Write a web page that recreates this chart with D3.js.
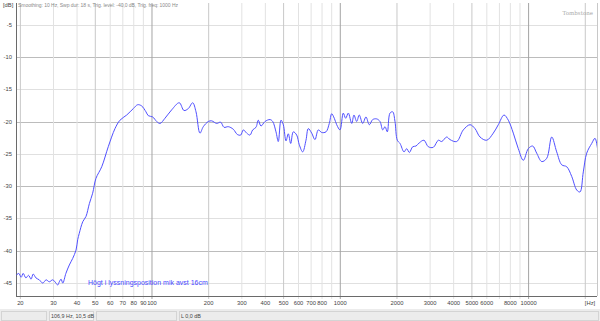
<!DOCTYPE html>
<html lang="en">
<head>
  <meta charset="UTF-8" />
  <title>Frequency response</title>
  <script src="https://d3js.org/d3.v7.min.js"></script>
  <style>
    body {
      margin: 0;
      background-color: #ffffff;
      font-family: 'Liberation Sans', Arial, sans-serif;
    }
    .tick-label {
      font-size: 5.8px;
      fill: #444;
    }
    .curve {
      fill: none;
      stroke: #5050ff;
      stroke-width: 1;
    }
  </style>
</head>
<body>
  <div id="chart"></div>

  <script>
    // measured curve (Hz, dB)
    const freqHz = [
      19.0, 19.6, 20.2, 20.7, 21.4, 22.1, 22.8, 23.4, 24.2, 25.2,
      26.3, 27.4, 28.5, 29.7, 30.9, 31.6, 32.2, 32.9, 33.6, 34.9,
      36.4, 37.9, 39.5, 40.3, 41.1, 42.9, 44.6, 46.5, 48.4, 50.4,
      54.1, 58.6, 63.6, 67.6, 73.4, 79.6, 84.0, 88.2, 92.9, 95.6,
      100.9, 105.9, 110.3, 117.2, 127.2, 139.6, 147.9, 155.9, 164.5, 171.3,
      179.8, 187.3, 199.1, 207.5, 220.6, 231.6, 241.3, 254.3, 270.3, 283.8,
      295.9, 305.4, 318.4, 331.5, 342.6, 356.7, 366.8, 379.2, 398.2, 423.4,
      437.5, 455.5, 468.5, 484.3, 498.1, 514.8, 529.5, 545.3, 562.9, 586.8,
      605.7, 631.4, 657.3, 676.2, 704.9, 733.8, 764.1, 796.5, 839.6, 874.2,
      900.2, 929.2, 957.0, 996.3, 1037, 1068, 1103, 1150, 1182, 1222,
      1261, 1315, 1369, 1426, 1486, 1561, 1625, 1680, 1728, 1777,
      1836, 1898, 1952, 2008, 2076, 2180, 2253, 2326, 2425, 2523,
      2627, 2782, 2932, 3117, 3315, 3455, 3674, 3825, 4151, 4501,
      4885, 5193, 5520, 5992, 6494, 6904, 7404, 7803, 8294, 8816,
      9374, 9963, 10515, 11040, 11740, 12480, 13270, 14100, 14990, 15940,
      16940, 18010, 18750, 19520, 20350, 21630, 22530, 23460
    ];
    const levelDb = [
      -43.8, -43.5, -44.1, -43.5, -44.2, -43.8, -44.4, -43.6, -44.2, -44.5,
      -45.0, -44.5, -44.8, -44.5, -45.0, -45.3, -44.8, -44.4, -45.0, -43.5,
      -42.2, -41.2, -39.9, -38.3, -37.3, -35.5, -34.7, -32.7, -31.1, -28.8,
      -27.0, -23.9, -21.1, -19.8, -19.0, -18.0, -17.4, -17.6, -18.5, -19.1,
      -19.3, -20.0, -20.3, -19.5, -18.2, -17.1, -18.3, -18.0, -17.1, -18.5,
      -21.8, -20.8, -20.0, -19.9, -20.3, -20.1, -20.9, -20.8, -21.2, -22.0,
      -22.1, -21.3, -21.8, -22.1, -21.3, -20.9, -19.8, -20.7, -20.0, -19.7,
      -20.0, -21.6, -23.1, -19.8, -20.5, -23.0, -21.9, -23.4, -21.6, -22.1,
      -23.6, -24.7, -22.9, -21.1, -21.8, -22.8, -21.3, -21.7, -21.6, -20.3,
      -18.8, -19.5, -20.5, -21.3, -18.7, -19.5, -18.7, -20.3, -19.0, -20.0,
      -19.0, -20.3, -19.3, -20.5, -19.7, -19.6, -20.0, -21.3, -20.8, -21.6,
      -18.7, -18.5, -20.0, -22.9, -23.4, -24.7, -24.2, -24.8, -23.9, -23.8,
      -23.3, -22.9, -23.9, -24.0, -22.9, -23.1, -22.4, -22.8, -23.1, -21.3,
      -20.5, -21.1, -22.4, -22.9, -21.8, -20.5, -19.0, -19.8, -21.8, -24.2,
      -26.0, -24.2, -23.8, -24.9, -26.2, -25.7, -22.4, -24.7, -26.7, -27.0,
      -28.5, -30.6, -30.9, -27.8, -24.9, -23.4, -22.6, -25.2
    ];

    const yTicks = [-5, -10, -15, -20, -25, -30, -35, -40, -45];
    const xGrid = [20, 30, 40, 50, 60, 70, 80, 90, 100, 200, 300, 400, 500, 600, 700, 800, 900,
                   1000, 2000, 3000, 4000, 5000, 6000, 7000, 8000, 9000, 10000, 20000];
    const xLabels = [20, 30, 40, 50, 60, 70, 80, 90, 100, 200, 300, 400, 500, 600, 700, 800,
                     1000, 2000, 3000, 4000, 5000, 6000, 8000, 10000];

    const infoText = "Smoothing: 10 Hz, Swp dur: 18 s, Trig. level: -40,0 dB, Trig. freq: 1000 Hz";
    const legendText = "Högt i lyssningsposition mik avst 16cm";
    const statusFields = ["", "106,9 Hz, 10,5 dB", "", "L 0,0 dB"];

    function drawChart() {
      const svgWidth = 600;
      const svgHeight = 321;
      const plot = { left: 16, right: 597, top: 3, bottom: 296 };

      const svg = d3.select("#chart")
        .append("svg")
        .attr("width", svgWidth)
        .attr("height", svgHeight);

      const x = d3.scaleLog()
        .domain([18.96, 23080])
        .range([plot.left, plot.right]);

      const y = d3.scaleLinear()
        .domain([-47, -1.2])
        .range([plot.bottom, 0]);

      svg.append("defs").append("clipPath")
        .attr("id", "plot-clip")
        .append("rect")
        .attr("x", plot.left)
        .attr("y", plot.top)
        .attr("width", plot.right - plot.left)
        .attr("height", plot.bottom - plot.top);

      // horizontal grid
      svg.append("g")
        .selectAll("line")
        .data(yTicks)
        .enter()
        .append("line")
        .attr("x1", plot.left)
        .attr("x2", plot.right)
        .attr("y1", d => Math.round(y(d)) + 0.5)
        .attr("y2", d => Math.round(y(d)) + 0.5)
        .attr("stroke", d => d % 10 === 0 ? "#bcbcbc" : "#e0e0e0");

      // vertical grid
      svg.append("g")
        .selectAll("line")
        .data(xGrid)
        .enter()
        .append("line")
        .attr("x1", d => x(d))
        .attr("x2", d => x(d))
        .attr("y1", plot.top)
        .attr("y2", plot.bottom + 3)
        .attr("stroke", d => {
          const m = d / Math.pow(10, Math.floor(Math.log10(d)));
          if (Math.abs(m - 1) < 1e-6) return "#a4a4a4";
          if (Math.abs(m - 2) < 1e-6 || Math.abs(m - 5) < 1e-6) return "#c8c8c8";
          return "#e2e2e2";
        });

      // frame
      svg.append("line")
        .attr("x1", plot.left + 0.5).attr("x2", plot.left + 0.5)
        .attr("y1", plot.top).attr("y2", plot.bottom)
        .attr("stroke", "#6a6a6a");
      svg.append("line")
        .attr("x1", plot.left).attr("x2", plot.right)
        .attr("y1", plot.bottom + 0.5).attr("y2", plot.bottom + 0.5)
        .attr("stroke", "#6a6a6a");
      svg.append("line")
        .attr("x1", plot.right + 0.5).attr("x2", plot.right + 0.5)
        .attr("y1", plot.top).attr("y2", plot.bottom)
        .attr("stroke", "#c8c8c8");

      // axis labels
      svg.append("g")
        .selectAll("text")
        .data(yTicks)
        .enter()
        .append("text")
        .attr("class", "tick-label")
        .attr("x", 12)
        .attr("y", d => y(d))
        .attr("dy", "0.35em")
        .attr("text-anchor", "end")
        .text(d => d);

      svg.append("g")
        .selectAll("text")
        .data(xLabels)
        .enter()
        .append("text")
        .attr("class", "tick-label")
        .attr("x", d => x(d))
        .attr("y", 305)
        .attr("text-anchor", "middle")
        .text(d => d);

      svg.append("text")
        .attr("class", "tick-label")
        .attr("x", 590)
        .attr("y", 305)
        .attr("text-anchor", "middle")
        .text("[Hz]");

      svg.append("text")
        .attr("class", "tick-label")
        .attr("x", 3)
        .attr("y", 7)
        .text("[dB]");

      svg.append("text")
        .attr("x", 18)
        .attr("y", 7)
        .attr("font-size", "5px")
        .attr("fill", "#8a8a8a")
        .attr("textLength", 160)
        .text(infoText);

      svg.append("text")
        .attr("x", 593)
        .attr("y", 15)
        .attr("text-anchor", "end")
        .attr("font-family", "'DejaVu Serif', serif")
        .attr("font-size", "5.5px")
        .attr("fill", "#a8a8a8")
        .text("Tombstone");

      // response curve
      const line = d3.line()
        .x(d => x(d[0]))
        .y(d => y(d[1]))
        .curve(d3.curveCatmullRom.alpha(0.5));

      svg.append("path")
        .datum(d3.zip(freqHz, levelDb))
        .attr("class", "curve")
        .attr("clip-path", "url(#plot-clip)")
        .attr("d", line);

      svg.append("text")
        .attr("x", 88)
        .attr("y", 285)
        .attr("font-size", "7px")
        .attr("fill", "#4848ff")
        .text(legendText);

      drawStatusBar(svg, svgWidth);
    }

    function drawStatusBar(svg, width) {
      const top = 309;
      svg.append("rect")
        .attr("x", 0).attr("y", top)
        .attr("width", width).attr("height", 12)
        .attr("fill", "#ececec");

      const boxes = [[0, 48], [48, 95], [95, 178], [178, width]];
      boxes.forEach((b, i) => {
        svg.append("rect")
          .attr("x", b[0] + 1.5).attr("y", top + 2.5)
          .attr("width", b[1] - b[0] - 3).attr("height", 9)
          .attr("fill", i === 1 ? "#f4f4f4" : "#ececec")
          .attr("stroke", "#d4d4d4");
        svg.append("text")
          .attr("x", b[0] + 3)
          .attr("y", top + 9)
          .attr("font-size", "5.4px")
          .attr("fill", "#444")
          .text(statusFields[i]);
      });
    }

    drawChart();
  </script>
</body>
</html>
